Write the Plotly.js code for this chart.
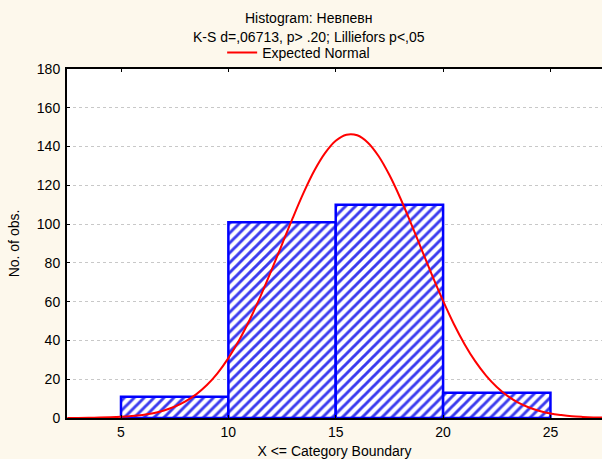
<!DOCTYPE html>
<html>
<head>
<meta charset="utf-8">
<script src="https://cdn.plot.ly/plotly-3.0.1.min.js"></script>
<style>html,body{margin:0;padding:0;background:#fdf8ec;}#chart{width:602px;height:459px;}</style>
</head>
<body>
<div id="chart"></div>
<script>
// Histogram bins (centers of 5-wide categories) and counts
var binCenters = [7.5, 12.5, 17.5, 22.5];
var binCounts = [11, 101, 110, 13];
// Expected normal curve, values every 0.5
var curveX = [2.5, 3, 3.5, 4, 4.5, 5, 5.5, 6, 6.5, 7, 7.5, 8, 8.5, 9, 9.5, 10, 10.5, 11, 11.5, 12, 12.5, 13, 13.5, 14, 14.5, 15, 15.5, 16, 16.5, 17, 17.5, 18, 18.5, 19, 19.5, 20, 20.5, 21, 21.5, 22, 22.5, 23, 23.5, 24, 24.5, 25, 25.5, 26, 26.5, 27, 27.5];
var curveY = [0.03, 0.06, 0.12, 0.21, 0.36, 0.61, 1.0, 1.6, 2.5, 3.9, 5.85, 8.6, 12.2, 17.0, 23.2, 30.9, 40.1, 50.8, 62.9, 76.0, 89.6, 103.2, 116.1, 127.5, 136.6, 143.0, 146.1, 145.8, 142.0, 135.0, 125.3, 113.6, 100.5, 86.9, 73.3, 60.4, 48.5, 38.1, 29.2, 21.9, 16.0, 11.4, 7.9, 5.4, 3.6, 2.3, 1.5, 0.9, 0.55, 0.32, 0.19];
var yTicks = [0, 20, 40, 60, 80, 100, 120, 140, 160, 180];
var xTicks = [5, 10, 15, 20, 25];

var font = {family: 'Liberation Sans, Arial, sans-serif', size: 14, color: '#000'};

var traces = [
  {
    type: 'bar', x: binCenters, y: binCounts, width: 5,
    showlegend: false, hoverinfo: 'x+y',
    marker: {
      color: '#ffffff',
      line: {color: '#0000ff', width: 2.5},
      pattern: {shape: '/', fgcolor: '#3a3aee', bgcolor: '#ffffff', size: 7, solidity: 0.42}
    }
  },
  {
    type: 'scatter', mode: 'lines', x: curveX, y: curveY,
    name: 'Expected Normal',
    line: {color: '#ff0000', width: 2, shape: 'spline', smoothing: 1}
  }
];

var layout = {
  width: 602, height: 459,
  margin: {l: 67, r: 0, t: 69, b: 41},
  paper_bgcolor: '#fdf8ec', plot_bgcolor: '#ffffff',
  font: font,
  bargap: 0,
  showlegend: true,
  legend: {
    orientation: 'h', x: 0.29, xanchor: 'left', y: 1.046, yanchor: 'middle',
    bgcolor: 'rgba(0,0,0,0)', font: font, itemwidth: 30
  },
  annotations: [
    {text: 'Histogram: Невпевн', xref: 'paper', yref: 'paper', x: 0.452, y: 1.146,
     xanchor: 'center', yanchor: 'middle', showarrow: false, font: font},
    {text: 'K-S d=,06713, p> .20; Lilliefors p<,05', xref: 'paper', yref: 'paper', x: 0.452, y: 1.092,
     xanchor: 'center', yanchor: 'middle', showarrow: false, font: font}
  ],
  xaxis: {
    range: [2.485, 27.4], tickvals: xTicks, ticktext: xTicks.map(String),
    showgrid: false, zeroline: false,
    showline: true, linecolor: '#000', linewidth: 2, mirror: 'ticks',
    ticks: 'inside', ticklen: 3, tickcolor: '#000',
    title: {text: 'X <= Category Boundary', font: font, standoff: 7},
    tickfont: font
  },
  yaxis: {
    range: [0, 180], tickvals: yTicks, ticktext: yTicks.map(String),
    showgrid: true, gridcolor: '#c8c8c8', griddash: 'dot', gridwidth: 1,
    zeroline: false,
    showline: true, linecolor: '#000', linewidth: 2,
    ticks: 'inside', ticklen: 3, tickcolor: '#000',
    ticklabelstandoff: 2,
    title: {text: 'No. of obs.', font: font, standoff: 14},
    tickfont: font
  }
};

Plotly.newPlot('chart', traces, layout, {displayModeBar: false, staticPlot: true});
</script>
</body>
</html>
